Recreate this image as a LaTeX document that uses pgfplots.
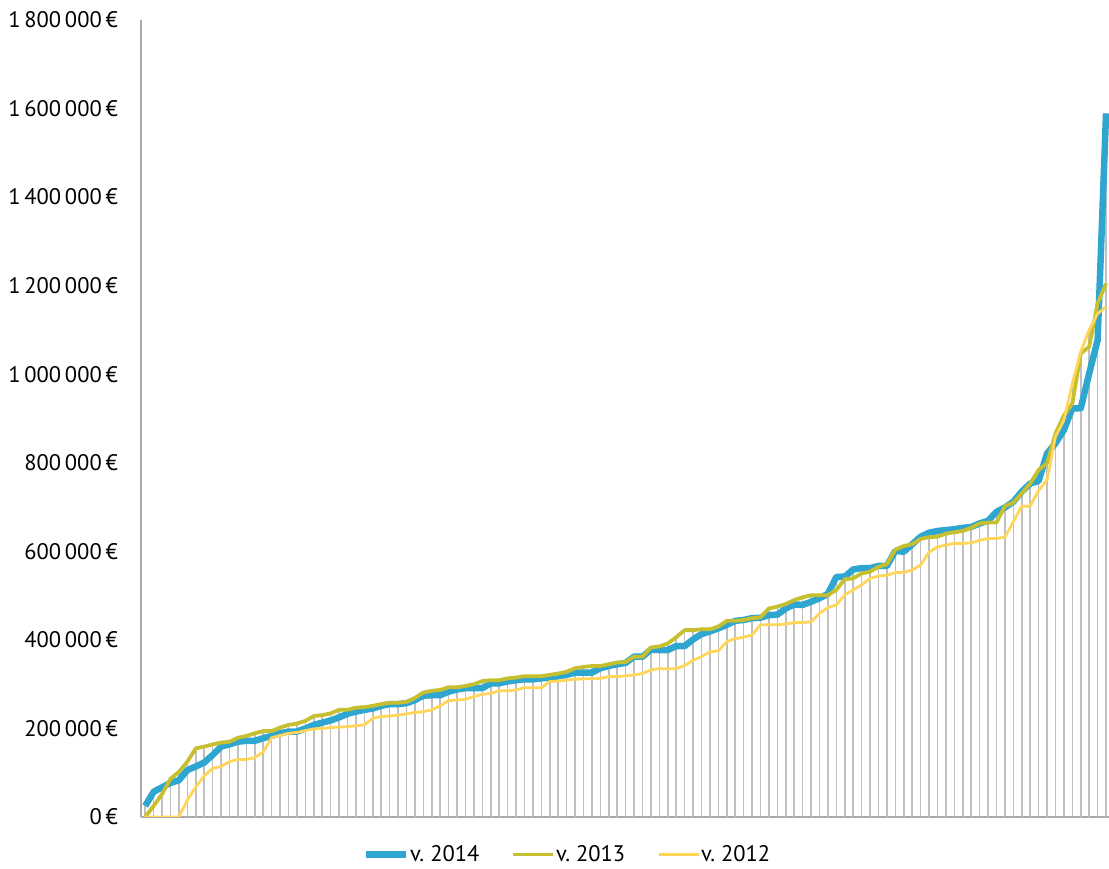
\documentclass[border=0pt]{standalone}
\usepackage{pgfplots}
\pgfplotsset{compat=1.18}
\usepackage{pgfplotstable}
\usepackage{fontspec}
\setmainfont{PT Sans}
\frenchspacing
\definecolor{c14}{RGB}{46,166,207}
\definecolor{c13}{RGB}{198,192,48}
\definecolor{c12}{RGB}{255,213,90}
\definecolor{dropc}{RGB}{192,192,192}
\definecolor{axgray}{RGB}{170,170,170}

% values in thousands of euros
\pgfplotstableread{
x a b c
0 25 0 0
1 57 25 0
2 67 52 0
3 77 86 0
4 83 102 0
5 106 125 38
6 114 155 68
7 123 159 93
8 140 164 110
9 159 168 114
10 164 170 125
11 170 179 130
12 172 183 130
13 172 189 134
14 178 194 147
15 183 194 179
16 189 202 184
17 193 208 189
18 193 211 191
19 200 217 195
20 208 228 199
21 213 230 200
22 218 234 202
23 225 242 203
24 233 242 204
25 238 247 206
26 242 248 208
27 245 251 223
28 251 255 227
29 255 258 228
30 255 258 230
31 257 260 233
32 264 269 236
33 274 281 238
34 275 285 242
35 275 287 251
36 283 293 263
37 288 293 264
38 291 296 266
39 291 300 272
40 291 307 277
41 302 309 279
42 302 309 285
43 306 313 285
44 309 315 287
45 311 318 292
46 311 318 292
47 313 318 292
48 315 321 306
49 318 324 307
50 321 328 309
51 326 336 311
52 326 339 312
53 326 341 312
54 336 341 313
55 341 345 317
56 345 349 317
57 348 350 319
58 362 362 321
59 362 362 324
60 378 383 332
61 377 385 335
62 377 392 335
63 386 406 335
64 386 422 342
65 401 422 354
66 413 424 362
67 419 424 373
68 426 430 375
69 434 443 396
70 443 443 403
71 445 445 406
72 449 449 411
73 450 451 434
74 456 471 434
75 457 475 434
76 471 481 436
77 480 490 439
78 479 496 439
79 486 501 441
80 494 501 460
81 504 501 473
82 542 513 479
83 543 537 502
84 559 539 513
85 562 550 524
86 562 554 539
87 567 565 544
88 567 571 546
89 601 604 552
90 599 612 552
91 616 616 558
92 633 628 569
93 642 632 598
94 646 633 610
95 648 640 614
96 650 643 618
97 653 646 618
98 655 653 619
99 663 663 625
100 669 665 629
101 689 665 629
102 699 702 632
103 712 710 667
104 735 731 702
105 753 753 702
106 759 784 738
107 821 799 761
108 844 866 859
109 874 907 896
110 923 934 979
111 923 1047 1051
112 1002 1062 1100
113 1077 1160 1137
114 1589 1205 1152
}\data

\begin{document}
\begin{tikzpicture}[x=1pt,y=1pt]
\path[use as bounding box] (-141,-52) rectangle (968,817);
\begin{axis}[
  at={(0,0)}, anchor=south west,
  scale only axis, width=968pt, height=797pt,
  xmin=-0.5, xmax=114.35, ymin=0, ymax=1800,
  axis lines*=left,
  axis line style={axgray, line width=1.5pt},
  xtick=\empty,
  ytick={0,200,400,600,800,1000,1200,1400,1600,1800},
  yticklabels={0\,€, 200\,000\,€, 400\,000\,€, 600\,000\,€, 800\,000\,€, 1\,000\,000\,€, 1\,200\,000\,€, 1\,400\,000\,€, 1\,600\,000\,€, 1\,800\,000\,€},
  major tick length=0pt,
  yticklabel style={font=\fontsize{22.5}{26}\selectfont, inner sep=0pt, xshift=-23pt},
  legend style={at={(0.440,-0.047)}, anchor=center, draw=none, fill=none,
    inner sep=0pt, nodes={inner sep=1pt},
    legend columns=3, font=\fontsize{22.5}{26}\selectfont,
    /tikz/every even column/.append style={column sep=31pt}},
  legend image code/.code={\draw[#1] (0pt,0pt) -- (40pt,0pt);},
]
\addplot[ycomb, dropc, line width=1.6pt, mark=none, forget plot] table[x=x,y=a]{\data};
\addplot[ycomb, dropc, line width=1.6pt, mark=none, forget plot] table[x=x,y=b]{\data};
\addplot[ycomb, dropc, line width=1.6pt, mark=none, forget plot] table[x=x,y=c]{\data};
\addplot[c14, line width=6.5pt, line join=round, mark=none] table[x=x,y=a]{\data};
\addlegendentry{v. 2014}
\addplot[c13, line width=3.8pt, line join=round, mark=none] table[x=x,y=b]{\data};
\addlegendentry{v. 2013}
\addplot[c12, line width=2.8pt, line join=round, mark=none] table[x=x,y=c]{\data};
\addlegendentry{v. 2012}
\end{axis}
\end{tikzpicture}
\end{document}
